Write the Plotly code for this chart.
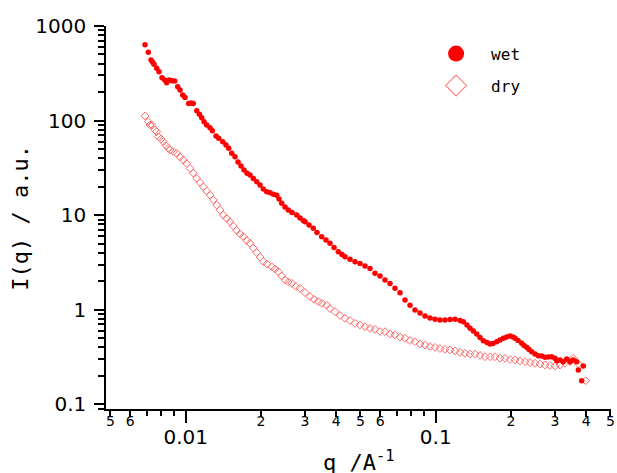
import plotly.graph_objects as go

# ---- data ----
q_wet = [0.006875, 0.007087, 0.007267, 0.007379, 0.007468, 0.007656, 0.00782, 0.008039, 0.008241, 0.008395,
         0.008598, 0.008816, 0.009036, 0.00929, 0.009489, 0.009727, 0.009936, 0.01028, 0.01053, 0.01072,
         0.01107, 0.01134, 0.01159, 0.01184, 0.01213, 0.01251, 0.01278, 0.01322, 0.01355, 0.01406,
         0.01449, 0.01486, 0.01528, 0.01575, 0.01619, 0.01664, 0.01711, 0.01759, 0.01808, 0.01864,
         0.01923, 0.01983, 0.02044, 0.02109, 0.02174, 0.02241, 0.02312, 0.02362, 0.02421, 0.02496,
         0.02573, 0.02662, 0.0278, 0.02866, 0.02954, 0.03001, 0.03113, 0.03239, 0.03351, 0.03499,
         0.0364, 0.03777, 0.03919, 0.04077, 0.04219, 0.04337, 0.04541, 0.04755, 0.04979, 0.05214,
         0.0546, 0.05717, 0.05987, 0.06269, 0.06565, 0.06874, 0.07198, 0.07538, 0.07893, 0.08265,
         0.08655, 0.09063, 0.09489, 0.09936, 0.104, 0.1089, 0.1141, 0.1195, 0.1251, 0.129,
         0.1334, 0.1372, 0.1414, 0.1459, 0.1504, 0.1551, 0.1604, 0.1649, 0.1695, 0.1754,
         0.1808, 0.1864, 0.1923, 0.1983, 0.2038, 0.2076, 0.2134, 0.2208, 0.2255, 0.2312,
         0.2362, 0.2421, 0.2496, 0.2573, 0.2655, 0.2737, 0.2821, 0.2911, 0.3001, 0.3048,
         0.3142, 0.3239, 0.3342, 0.3445, 0.3551, 0.3664, 0.3719, 0.3837, 0.3894]
i_wet = [634, 527, 437, 413, 394, 357, 329, 284, 269, 252,
         269, 264, 262, 228, 211, 186, 175, 152, 153.5, 152,
         127, 117, 107, 97.4, 89.9, 84.1, 78.2, 68.7, 65.0, 59.8,
         55.2, 51.0, 45.1, 41.5, 36.5, 33.1, 30.0, 27.7, 26.6, 24.5,
         22.6, 20.9, 18.9, 17.7, 17.3, 16.7, 16.3, 14.8, 13.4, 12.2,
         11.35, 10.7, 10.05, 9.34, 8.79, 8.54, 7.88, 7.27, 6.56, 5.92,
         5.47, 5.05, 4.56, 4.11, 3.84, 3.64, 3.42, 3.23, 3.09, 2.90,
         2.73, 2.43, 2.28, 2.07, 1.90, 1.69, 1.51, 1.27, 1.12, 0.995,
         0.925, 0.860, 0.819, 0.794, 0.780, 0.780, 0.790, 0.794, 0.771, 0.748,
         0.691, 0.638, 0.597, 0.555, 0.510, 0.471, 0.451, 0.435, 0.440, 0.460,
         0.480, 0.500, 0.516, 0.528, 0.516, 0.500, 0.474, 0.442, 0.419, 0.401,
         0.380, 0.361, 0.341, 0.327, 0.325, 0.315, 0.317, 0.319, 0.307, 0.290,
         0.295, 0.283, 0.302, 0.283, 0.295, 0.283, 0.231, 0.178, 0.255]

q_dry = [0.006875, 0.007087, 0.0072, 0.007311, 0.007537, 0.007656, 0.00777, 0.007966, 0.008136, 0.00834,
         0.008519, 0.008654, 0.008921, 0.009204, 0.009489, 0.009781, 0.01009, 0.0104, 0.01072, 0.01107,
         0.01141, 0.01176, 0.01213, 0.01251, 0.0129, 0.0133, 0.01372, 0.01414, 0.01459, 0.01504,
         0.0155, 0.016, 0.01649, 0.017, 0.01754, 0.01808, 0.01864, 0.01923, 0.01983, 0.02044,
         0.02114, 0.02208, 0.02276, 0.02346, 0.02421, 0.02496, 0.02573, 0.02655, 0.02762, 0.02866,
         0.03001, 0.03142, 0.0326, 0.03392, 0.03509, 0.03664, 0.03777, 0.03956, 0.04142, 0.04337,
         0.04541, 0.04755, 0.04979, 0.05214, 0.0546, 0.05717, 0.05987, 0.06269, 0.06565, 0.06874,
         0.07198, 0.07538, 0.07893, 0.08265, 0.08655, 0.09063, 0.09489, 0.09936, 0.104, 0.1089,
         0.1141, 0.1195, 0.1251, 0.131, 0.1372, 0.1436, 0.1504, 0.1575, 0.1649, 0.1727,
         0.1808, 0.1893, 0.1983, 0.2076, 0.2174, 0.2277, 0.2384, 0.2496, 0.2614, 0.2737,
         0.2866, 0.3001, 0.3142, 0.329, 0.3445, 0.3551, 0.3719, 0.3981]
i_dry = [112, 97.4, 89.9, 89.9, 79.6, 76.3, 67.6, 63.9, 59.8, 54.5,
         51.0, 48.9, 46.9, 45.1, 41.5, 38.3, 35.2, 31.3, 27.9, 24.5,
         22.2, 20.0, 18.0, 16.3, 14.5, 12.8, 11.35, 10.05, 9.23, 8.54,
         7.69, 6.89, 6.33, 5.92, 5.40, 5.05, 4.50, 4.03, 3.61, 3.23,
         3.05, 2.85, 2.70, 2.53, 2.28, 2.07, 1.97, 1.91, 1.76, 1.69,
         1.52, 1.38, 1.29, 1.22, 1.17, 1.12, 1.03, 0.955, 0.871, 0.813,
         0.771, 0.720, 0.691, 0.663, 0.638, 0.622, 0.590, 0.587, 0.555, 0.542,
         0.516, 0.500, 0.474, 0.460, 0.435, 0.424, 0.409, 0.401, 0.390, 0.382,
         0.376, 0.367, 0.354, 0.347, 0.341, 0.341, 0.329, 0.319, 0.319, 0.319,
         0.309, 0.307, 0.298, 0.295, 0.288, 0.283, 0.277, 0.272, 0.267, 0.261,
         0.258, 0.255, 0.261, 0.272, 0.283, 0.307, 0.267, 0.178]

series_names = ["wet", "dry"]

# tick definitions
y_major = [0.1, 1, 10, 100, 1000]
y_major_text = ["0.1", "1", "10", "100", "1000"]
y_minor = [m * 10 ** e for e in range(-2, 3) for m in range(2, 10)]
x_major = [0.01, 0.1]
x_major_text = ["0.01", "0.1"]
x_digit = [0.005, 0.006, 0.02, 0.03, 0.04, 0.05, 0.06, 0.2, 0.3, 0.4, 0.5]
x_digit_text = ["5", "6", "2", "3", "4", "5", "6", "2", "3", "4", "5"]
x_minor = [0.007, 0.008, 0.009, 0.07, 0.08, 0.09]

RED = "#ff0000"
PINK = "#ff6a6a"
MONO = "DejaVu Sans Mono"
SANS = "DejaVu Sans"

fig = go.Figure()
fig.add_trace(go.Scatter(x=q_dry, y=i_dry, mode="markers", showlegend=False,
                         marker=dict(symbol="diamond-open", size=6, color=PINK, line=dict(width=1, color=PINK))))
fig.add_trace(go.Scatter(x=q_wet, y=i_wet, mode="markers", showlegend=False,
                         marker=dict(symbol="circle", size=5.5, color=RED)))
# legend entries
fig.add_trace(go.Scatter(x=[None], y=[None], mode="markers", name=series_names[0], legendgroup="a",
                         marker=dict(symbol="circle", size=16, color=RED)))
fig.add_trace(go.Scatter(x=[None], y=[None], mode="markers", name=series_names[1], legendgroup="b",
                         marker=dict(symbol="diamond-open", size=16, color="#ff8080", line=dict(width=1.2, color="#ff8080"))))

fig.update_layout(
    width=617, height=473,
    margin=dict(l=106, r=6, t=26, b=64),
    paper_bgcolor="white", plot_bgcolor="white",
    showlegend=True,
    legend=dict(x=0.624, y=0.972, xanchor="left", yanchor="top", itemwidth=60, itemsizing="trace",
                tracegroupgap=8, font=dict(family=MONO, size=16, color="black"),
                bgcolor="rgba(0,0,0,0)"),
    xaxis=dict(type="log", range=[-2.3188, -0.2988], showgrid=False, zeroline=False, automargin=False,
               showline=True, linecolor="black", linewidth=1.5,
               tickmode="array", tickvals=x_major, ticktext=x_major_text,
               ticks="outside", ticklen=12, tickwidth=1.5, tickcolor="black",
               tickfont=dict(family=SANS, size=20, color="black"), ticklabelstandoff=-3),
    xaxis2=dict(type="log", range=[-2.3188, -0.2988], overlaying="x", anchor="y", side="bottom",
                showgrid=False, zeroline=False, showline=False, automargin=False,
                tickmode="array", tickvals=x_digit, ticktext=x_digit_text,
                ticks="outside", ticklen=7, tickwidth=1.5, tickcolor="black",
                tickfont=dict(family=SANS, size=14, color="black"), ticklabelstandoff=-8,
                minor=dict(tickvals=x_minor, ticks="outside", ticklen=6, tickwidth=1.5, tickcolor="black")),
    yaxis=dict(type="log", range=[-1.0486, 3.0], showgrid=False, zeroline=False, automargin=False,
               showline=True, linecolor="black", linewidth=1.5,
               tickmode="array", tickvals=y_major, ticktext=y_major_text,
               ticks="outside", ticklen=10, tickwidth=1.5, tickcolor="black",
               tickfont=dict(family=SANS, size=20, color="black"), ticklabelstandoff=4,
               minor=dict(tickvals=y_minor, ticks="outside", ticklen=6, tickwidth=1.5, tickcolor="black")),
    annotations=[
        dict(text="q /A<sup>-1</sup>", xref="paper", yref="paper", x=0.5, y=-0.094,
             xanchor="center", yanchor="top", showarrow=False,
             font=dict(family=MONO, size=22, color="black")),
        dict(text="I(q) / a.u.", xref="paper", yref="paper", x=-0.17, y=0.5,
             xanchor="center", yanchor="middle", textangle=-90, showarrow=False,
             font=dict(family=MONO, size=22, color="black")),
    ],
)

# a hidden trace attached to xaxis2 so the overlay axis is drawn
fig.add_trace(go.Scatter(x=[None], y=[None], xaxis="x2", yaxis="y", showlegend=False, hoverinfo="skip"))

# remove the browser's default page margin so the figure sits at the window's corner
fig.write_html("out.html", config={"displayModeBar": False},
               post_script="document.body.style.margin='0';")
